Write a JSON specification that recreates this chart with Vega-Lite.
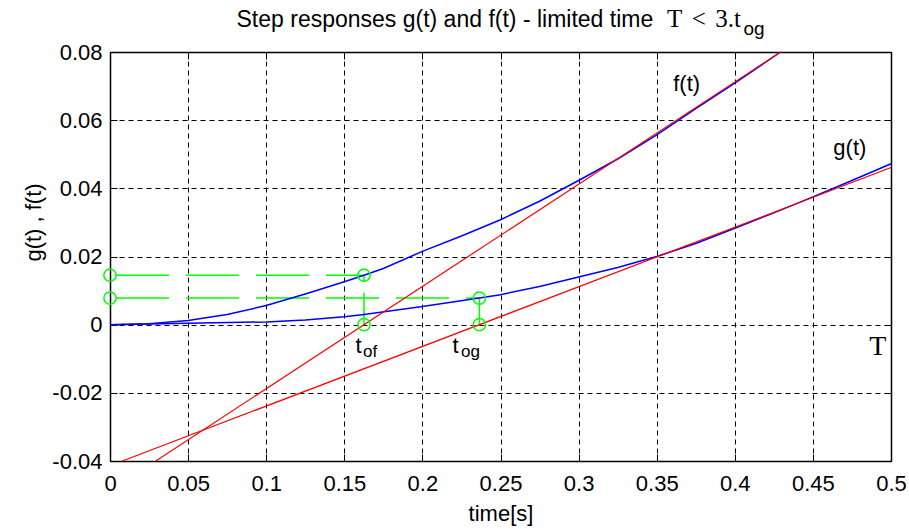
{
  "$schema": "https://vega.github.io/schema/vega-lite/v6.json",
  "width": 781,
  "height": 409,
  "autosize": {"type": "none"},
  "padding": {"left": 110, "top": 52, "right": 18, "bottom": 68},
  "background": "white",
  "config": {
    "view": {"stroke": null},
    "font": "Liberation Sans",
    "axis": {
      "domainColor": "black",
      "domainWidth": 1.5,
      "tickColor": "black",
      "tickWidth": 1,
      "tickSize": -7,
      "labelColor": "black",
      "labelFont": "Liberation Sans",
      "labelFontSize": 22,
      "labelFlush": false,
      "labelOverlap": false,
      "titleColor": "black",
      "titleFont": "Liberation Sans",
      "titleFontSize": 22,
      "titleFontWeight": "normal",
      "gridColor": "black",
      "gridOpacity": 1,
      "gridWidth": 1,
      "gridDash": [5, 4]
    }
  },
  "datasets": {
    "response": [
      {"t": 0, "v": 0, "series": "f"},
      {"t": 0.025, "v": 0.0003, "series": "f"},
      {"t": 0.05, "v": 0.0012, "series": "f"},
      {"t": 0.075, "v": 0.003, "series": "f"},
      {"t": 0.1, "v": 0.0056, "series": "f"},
      {"t": 0.125, "v": 0.009, "series": "f"},
      {"t": 0.15, "v": 0.0126, "series": "f"},
      {"t": 0.1626, "v": 0.0145, "series": "f"},
      {"t": 0.175, "v": 0.0165, "series": "f"},
      {"t": 0.2, "v": 0.0215, "series": "f"},
      {"t": 0.225, "v": 0.026, "series": "f"},
      {"t": 0.25, "v": 0.0308, "series": "f"},
      {"t": 0.275, "v": 0.0362, "series": "f"},
      {"t": 0.3, "v": 0.0423, "series": "f"},
      {"t": 0.325, "v": 0.0486, "series": "f"},
      {"t": 0.35, "v": 0.0557, "series": "f"},
      {"t": 0.375, "v": 0.0634, "series": "f"},
      {"t": 0.4, "v": 0.0709, "series": "f"},
      {"t": 0.4293, "v": 0.08, "series": "f"},
      {"t": 0, "v": 0, "series": "g"},
      {"t": 0.05, "v": 0.0004, "series": "g"},
      {"t": 0.1, "v": 0.0008, "series": "g"},
      {"t": 0.125, "v": 0.0014, "series": "g"},
      {"t": 0.15, "v": 0.0023, "series": "g"},
      {"t": 0.1626, "v": 0.003, "series": "g"},
      {"t": 0.2, "v": 0.0053, "series": "g"},
      {"t": 0.2365, "v": 0.0078, "series": "g"},
      {"t": 0.25, "v": 0.0088, "series": "g"},
      {"t": 0.275, "v": 0.0112, "series": "g"},
      {"t": 0.3, "v": 0.014, "series": "g"},
      {"t": 0.325, "v": 0.0168, "series": "g"},
      {"t": 0.35, "v": 0.02, "series": "g"},
      {"t": 0.375, "v": 0.0238, "series": "g"},
      {"t": 0.4, "v": 0.0283, "series": "g"},
      {"t": 0.425, "v": 0.0328, "series": "g"},
      {"t": 0.45, "v": 0.0375, "series": "g"},
      {"t": 0.475, "v": 0.0423, "series": "g"},
      {"t": 0.5, "v": 0.0472, "series": "g"}
    ],
    "asymptote": [
      {"t": 0.0293, "v": -0.04, "series": "f"},
      {"t": 0.4293, "v": 0.08, "series": "f"},
      {"t": 0.0079, "v": -0.04, "series": "g"},
      {"t": 0.5, "v": 0.0461, "series": "g"}
    ],
    "levels": [
      {"t0": 0, "t1": 0.1626, "v": 0.0145},
      {"t0": 0, "t1": 0.2365, "v": 0.0078}
    ],
    "drops": [
      {"t": 0.1626, "v0": 0, "v1": 0.0145},
      {"t": 0.2365, "v0": 0, "v1": 0.0078}
    ],
    "points": [
      {"t": 0, "v": 0.0145},
      {"t": 0, "v": 0.0078},
      {"t": 0.1626, "v": 0.0145},
      {"t": 0.1626, "v": 0},
      {"t": 0.2365, "v": 0.0078},
      {"t": 0.2365, "v": 0}
    ],
    "notes": [
      {"t": 0.3606, "v": 0.0686, "text": "f(t)", "kind": "label"},
      {"t": 0.4631, "v": 0.0499, "text": "g(t)", "kind": "label"},
      {"t": 0.1572, "v": -0.0082, "text": "t", "kind": "label"},
      {"t": 0.2193, "v": -0.0082, "text": "t", "kind": "label"},
      {"t": 0.162, "v": -0.0094, "text": "of", "kind": "sub"},
      {"t": 0.2247, "v": -0.0094, "text": "og", "kind": "sub"},
      {"t": 0.486, "v": -0.0088, "text": "T", "kind": "bigT"},
      {"t": 0.081, "v": 0.0874, "text": "Step responses g(t) and f(t) - limited time", "kind": "title"},
      {"t": 0.3566, "v": 0.0874, "text": "T", "kind": "titleSerif"},
      {"t": 0.3725, "v": 0.0874, "text": "<", "kind": "titleSerif"},
      {"t": 0.3875, "v": 0.0874, "text": "3.t", "kind": "titleSerif"},
      {"t": 0.4055, "v": 0.0851, "text": "og", "kind": "titleSub"}
    ]
  },
  "layer": [
    {
      "data": {"name": "levels"},
      "mark": {"type": "rule", "color": "#00ff00", "strokeWidth": 1.5, "strokeDash": [53, 17], "strokeDashOffset": -6},
      "encoding": {
        "x": {"field": "t0", "type": "quantitative", "scale": {"domain": [0, 0.5], "nice": false, "zero": false},
          "axis": {"orient": "bottom", "values": [0, 0.05, 0.1, 0.15, 0.2, 0.25, 0.3, 0.35, 0.4, 0.45, 0.5], "format": "~g", "title": "time[s]", "grid": true, "labelPadding": 19, "titlePadding": 9}},
        "x2": {"field": "t1"},
        "y": {"field": "v", "type": "quantitative", "scale": {"domain": [-0.04, 0.08], "nice": false, "zero": false},
          "axis": {"orient": "left", "values": [-0.04, -0.02, 0, 0.02, 0.04, 0.06, 0.08], "labelExpr": "replace(format(datum.value, '~g'), '\u2212', '-')", "title": "g(t) , f(t)", "grid": true, "labelPadding": 15, "titlePadding": 6, "titleY": 170}}
      }
    },
    {
      "data": {"name": "drops"},
      "mark": {"type": "rule", "color": "#00ff00", "strokeWidth": 1.5, "strokeDash": [32, 11]},
      "encoding": {
        "x": {"field": "t", "type": "quantitative", "scale": {"domain": [0, 0.5], "nice": false, "zero": false}, "axis": null},
        "y": {"field": "v0", "type": "quantitative", "scale": {"domain": [-0.04, 0.08], "nice": false, "zero": false}, "axis": null},
        "y2": {"field": "v1"}
      }
    },
    {
      "data": {"name": "response"},
      "mark": {"type": "line", "color": "#0000ff", "strokeWidth": 1.5},
      "encoding": {
        "x": {"field": "t", "type": "quantitative", "scale": {"domain": [0, 0.5], "nice": false, "zero": false}, "axis": null},
        "y": {"field": "v", "type": "quantitative", "scale": {"domain": [-0.04, 0.08], "nice": false, "zero": false}, "axis": null},
        "detail": {"field": "series"}
      }
    },
    {
      "data": {"name": "asymptote"},
      "mark": {"type": "line", "color": "#ff0000", "strokeWidth": 1.2},
      "encoding": {
        "x": {"field": "t", "type": "quantitative", "scale": {"domain": [0, 0.5], "nice": false, "zero": false}, "axis": null},
        "y": {"field": "v", "type": "quantitative", "scale": {"domain": [-0.04, 0.08], "nice": false, "zero": false}, "axis": null},
        "detail": {"field": "series"}
      }
    },
    {
      "data": {"name": "points"},
      "mark": {"type": "point", "shape": "circle", "filled": false, "color": "#00ff00", "strokeWidth": 1.5, "size": 150, "opacity": 1},
      "encoding": {
        "x": {"field": "t", "type": "quantitative", "scale": {"domain": [0, 0.5], "nice": false, "zero": false},
          "axis": {"orient": "top", "values": [0, 0.05, 0.1, 0.15, 0.2, 0.25, 0.3, 0.35, 0.4, 0.45, 0.5], "labels": false, "title": null, "grid": false}},
        "y": {"field": "v", "type": "quantitative", "scale": {"domain": [-0.04, 0.08], "nice": false, "zero": false},
          "axis": {"orient": "right", "values": [-0.04, -0.02, 0, 0.02, 0.04, 0.06, 0.08], "labels": false, "title": null, "grid": false}}
      }
    },
    {
      "data": {"name": "notes"},
      "transform": [{"filter": "datum.kind == 'label'"}],
      "mark": {"type": "text", "align": "left", "baseline": "alphabetic", "font": "Liberation Sans", "fontSize": 22, "color": "black"},
      "encoding": {
        "x": {"field": "t", "type": "quantitative", "scale": {"domain": [0, 0.5], "nice": false, "zero": false}, "axis": null},
        "y": {"field": "v", "type": "quantitative", "scale": {"domain": [-0.04, 0.08], "nice": false, "zero": false}, "axis": null},
        "text": {"field": "text"}
      }
    },
    {
      "data": {"name": "notes"},
      "transform": [{"filter": "datum.kind == 'sub'"}],
      "mark": {"type": "text", "align": "left", "baseline": "alphabetic", "font": "Liberation Sans", "fontSize": 17, "color": "black"},
      "encoding": {
        "x": {"field": "t", "type": "quantitative", "scale": {"domain": [0, 0.5], "nice": false, "zero": false}, "axis": null},
        "y": {"field": "v", "type": "quantitative", "scale": {"domain": [-0.04, 0.08], "nice": false, "zero": false}, "axis": null},
        "text": {"field": "text"}
      }
    },
    {
      "data": {"name": "notes"},
      "transform": [{"filter": "datum.kind == 'bigT'"}],
      "mark": {"type": "text", "align": "left", "baseline": "alphabetic", "font": "Liberation Serif", "fontSize": 28, "color": "black"},
      "encoding": {
        "x": {"field": "t", "type": "quantitative", "scale": {"domain": [0, 0.5], "nice": false, "zero": false}, "axis": null},
        "y": {"field": "v", "type": "quantitative", "scale": {"domain": [-0.04, 0.08], "nice": false, "zero": false}, "axis": null},
        "text": {"field": "text"}
      }
    },
    {
      "data": {"name": "notes"},
      "transform": [{"filter": "datum.kind == 'title'"}],
      "mark": {"type": "text", "align": "left", "baseline": "alphabetic", "font": "Liberation Sans", "fontSize": 23, "color": "black"},
      "encoding": {
        "x": {"field": "t", "type": "quantitative", "scale": {"domain": [0, 0.5], "nice": false, "zero": false}, "axis": null},
        "y": {"field": "v", "type": "quantitative", "scale": {"domain": [-0.04, 0.08], "nice": false, "zero": false}, "axis": null},
        "text": {"field": "text"}
      }
    },
    {
      "data": {"name": "notes"},
      "transform": [{"filter": "datum.kind == 'titleSerif'"}],
      "mark": {"type": "text", "align": "left", "baseline": "alphabetic", "font": "Liberation Serif", "fontSize": 25, "color": "black"},
      "encoding": {
        "x": {"field": "t", "type": "quantitative", "scale": {"domain": [0, 0.5], "nice": false, "zero": false}, "axis": null},
        "y": {"field": "v", "type": "quantitative", "scale": {"domain": [-0.04, 0.08], "nice": false, "zero": false}, "axis": null},
        "text": {"field": "text"}
      }
    },
    {
      "data": {"name": "notes"},
      "transform": [{"filter": "datum.kind == 'titleSub'"}],
      "mark": {"type": "text", "align": "left", "baseline": "alphabetic", "font": "Liberation Sans", "fontSize": 19, "color": "black"},
      "encoding": {
        "x": {"field": "t", "type": "quantitative", "scale": {"domain": [0, 0.5], "nice": false, "zero": false}, "axis": null},
        "y": {"field": "v", "type": "quantitative", "scale": {"domain": [-0.04, 0.08], "nice": false, "zero": false}, "axis": null},
        "text": {"field": "text"}
      }
    }
  ],
  "resolve": {"axis": {"x": "independent", "y": "independent"}}
}
